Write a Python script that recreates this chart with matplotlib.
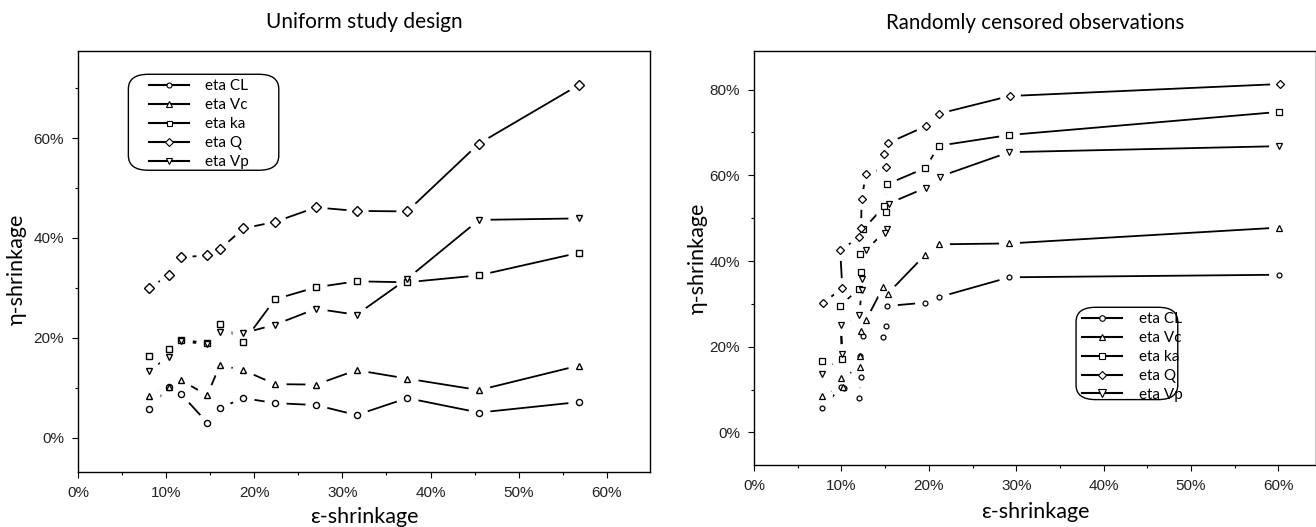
#
# Shrinkage plots: eta-shrinkage vs epsilon-shrinkage, two study designs
#
import numpy as np
import matplotlib.pyplot as plt
from matplotlib.lines import Line2D
from matplotlib.patches import FancyBboxPatch
from matplotlib.ticker import MultipleLocator, FuncFormatter

plt.rcParams['font.family'] = ['Liberation Sans Narrow', 'Liberation Sans', 'DejaVu Sans']

labels = ['eta CL', 'eta Vc', 'eta ka', 'eta Q', 'eta Vp']
markers = ['o', '^', 's', 'D', 'v']

# ---- Uniform study design (same epsilon for every parameter) ----
eps_uniform = [8.0, 10.3, 11.7, 14.65, 16.1, 18.75, 22.35, 27.0, 31.6, 37.35, 45.5, 56.8]
cl_uniform = [5.7, 10.2, 8.7, 3.0, 5.9, 7.9, 6.9, 6.5, 4.5, 7.9, 5.0, 7.1]
vc_uniform = [8.4, 10.2, 11.5, 8.45, 14.5, 13.5, 10.7, 10.6, 13.5, 11.8, 9.5, 14.4]
ka_uniform = [16.4, 17.7, 19.5, 19.0, 22.8, 19.1, 27.7, 30.1, 31.3, 31.1, 32.5, 37.0]
q_uniform = [29.9, 32.5, 36.1, 36.5, 37.7, 41.9, 43.2, 46.1, 45.4, 45.3, 58.9, 70.6]
vp_uniform = [13.4, 16.2, 19.3, 18.7, 21.2, 20.9, 22.6, 25.8, 24.6, 31.8, 43.6, 43.9]

# ---- Randomly censored observations (read per series) ----
eps_cl = [7.8, 10.0, 10.3, 12.0, 12.25, 12.1, 12.5, 14.8, 15.1, 15.25, 19.6, 21.2, 29.2, 60.1]
cl_cens = [5.8, 10.6, 10.3, 8.0, 13.0, 17.9, 22.5, 22.2, 24.8, 29.5, 30.3, 31.6, 36.2, 36.8]
eps_vc = [7.8, 10.2, 9.95, 12.1, 12.15, 12.25, 12.8, 14.8, 15.3, 19.6, 21.2, 29.2, 60.1]
vc_cens = [8.6, 10.6, 12.6, 15.2, 17.9, 23.6, 26.2, 34.0, 32.4, 41.5, 43.9, 44.1, 47.8]
eps_ka = [7.8, 10.05, 9.85, 11.95, 12.25, 12.15, 12.5, 14.9, 15.15, 15.2, 19.6, 21.15, 29.2, 60.1]
ka_cens = [16.6, 17.2, 29.6, 33.4, 37.5, 41.6, 47.4, 52.8, 51.4, 57.9, 61.7, 66.9, 69.4, 74.8]
eps_q = [7.9, 10.1, 9.85, 12.05, 12.25, 12.3, 12.8, 15.15, 14.9, 15.3, 19.7, 21.2, 29.25, 60.2]
q_cens = [30.2, 33.7, 42.6, 45.5, 47.6, 54.4, 60.2, 62.0, 64.9, 67.5, 71.5, 74.4, 78.5, 81.3]
eps_vp = [7.8, 10.1, 9.95, 12.05, 12.3, 12.3, 12.8, 15.2, 15.0, 15.4, 19.65, 21.25, 29.2, 60.1]
vp_cens = [13.7, 18.3, 25.1, 27.3, 33.3, 35.7, 42.5, 47.4, 46.6, 53.4, 57.1, 59.7, 65.4, 66.8]


def pct(v, pos):
    return '%d%%' % round(v)


def draw_panel(ax, data, sizes, halo, mew):
    # lines first, then white discs that cut the lines near points, then markers
    for x, y in data:
        ax.plot(x, y, color='black', lw=1.3, zorder=1, solid_capstyle='butt')
    for x, y in data:
        ax.plot(x, y, ls='none', marker='o', ms=halo, mfc='white', mec='none', zorder=2)
    for (x, y), m, s in zip(data, markers, sizes):
        ax.plot(x, y, ls='none', marker=m, ms=s, mfc='white', mec='black', mew=mew, zorder=3)


def style_axes(ax, title, xmax, ylim, tsize):
    ax.set_xlim(0, xmax)
    ax.set_ylim(*ylim)
    ax.xaxis.set_major_locator(MultipleLocator(10))
    ax.xaxis.set_minor_locator(MultipleLocator(5))
    ax.yaxis.set_major_locator(MultipleLocator(20))
    ax.yaxis.set_minor_locator(MultipleLocator(10))
    ax.xaxis.set_major_formatter(FuncFormatter(pct))
    ax.yaxis.set_major_formatter(FuncFormatter(pct))
    ax.tick_params(which='major', direction='out', length=4, width=0.8,
                   labelsize=11, labelcolor='#222222', pad=6)
    ax.tick_params(which='minor', direction='out', length=2.5, width=0.8)
    for sp in ax.spines.values():
        sp.set_linewidth(1.0)
    ax.set_title(title, family=['Lato', 'DejaVu Sans'], fontsize=tsize, pad=16)
    ax.set_xlabel('\u03b5-shrinkage', family=['Lato', 'DejaVu Sans'], fontsize=15.5, va='center')
    ax.set_ylabel('\u03b7-shrinkage', family=['Lato', 'DejaVu Sans'], fontsize=15.5, va='center')


def draw_legend(ax, box, anchor, sizes):
    x0, y0, x1, y1 = box
    patch = FancyBboxPatch((x0, y0), x1 - x0, y1 - y0, transform=ax.transAxes,
                           boxstyle='round,pad=0,rounding_size=0.035',
                           fc='white', ec='black', lw=1.0, zorder=5)
    ax.add_patch(patch)
    handles = [Line2D([], [], color='black', lw=1.5, marker=m, ms=s,
                      mfc='white', mec='black', mew=0.8)
               for m, s in zip(markers, sizes)]
    leg = ax.legend(handles, labels, loc='upper left', bbox_to_anchor=anchor,
                    frameon=False, handlelength=2.6, handletextpad=1.1,
                    labelspacing=0.32, borderpad=0, borderaxespad=0,
                    prop={'family': ['Lato', 'DejaVu Sans'], 'size': 11})
    leg.set_zorder(6)


fig = plt.figure(figsize=(13.16, 5.27), dpi=100)

# Left panel
ax1 = fig.add_axes([0.0593, 0.1049, 0.4346, 0.7989])
uniform = [(eps_uniform, cl_uniform), (eps_uniform, vc_uniform), (eps_uniform, ka_uniform),
           (eps_uniform, q_uniform), (eps_uniform, vp_uniform)]
draw_panel(ax1, uniform, [4.4, 5.0, 4.4, 5.2, 5.0], 16, 1.0)
style_axes(ax1, 'Uniform study design', 64.9, (-6.85, 77.5), 15)
ax1.xaxis.set_label_coords(0.5, -0.108)
ax1.yaxis.set_label_coords(-0.108, 0.48)
draw_legend(ax1, (0.088, 0.716, 0.351, 0.944), (0.124, 0.932), [3.6, 4.0, 3.6, 4.2, 4.0])

# Right panel
ax2 = fig.add_axes([0.5730, 0.1176, 0.4270, 0.7856])
censored = [(eps_cl, cl_cens), (eps_vc, vc_cens), (eps_ka, ka_cens),
            (eps_q, q_cens), (eps_vp, vp_cens)]
draw_panel(ax2, censored, [3.5, 5.0, 4.3, 3.8, 5.0], 15, 0.9)
style_axes(ax2, 'Randomly censored observations', 64.3, (-7.6, 89.0), 14.8)
ax2.xaxis.set_label_coords(0.5, -0.114)
ax2.yaxis.set_label_coords(-0.1, 0.5)
draw_legend(ax2, (0.573, 0.158, 0.754, 0.381), (0.584, 0.369), [4.0, 4.6, 4.6, 4.0, 5.2])

fig.savefig('out.png', dpi=100)
